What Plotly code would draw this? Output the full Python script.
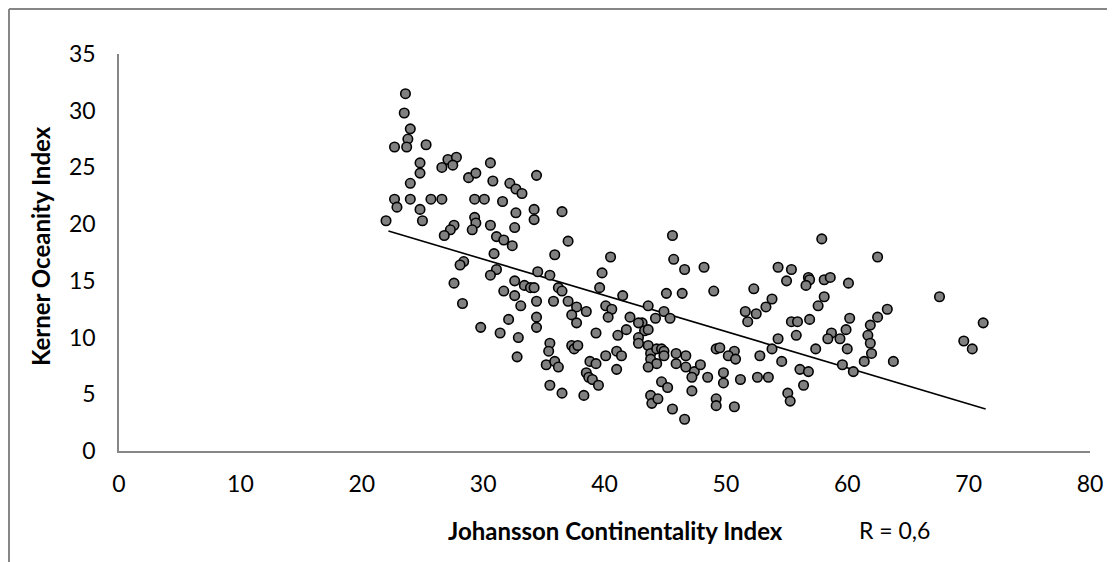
import plotly.graph_objects as go

# Johansson Continentality Index (x) vs Kerner Oceanity Index (y)
jci = [23.6, 23.5, 24.0, 23.8, 22.7, 23.7, 25.3, 24.8, 24.8, 24.0, 22.7, 22.9, 24.0, 24.8, 25.0, 22.0,
       25.7, 26.6, 26.6, 27.1, 27.8, 27.5, 28.8, 29.4, 30.6, 30.8, 32.2, 32.7, 33.2, 34.4, 29.3, 30.1,
       31.6, 32.7, 34.2, 34.2, 29.3, 29.4, 29.1, 30.6, 32.6, 27.6, 27.3, 26.8, 31.1, 31.7,
       32.4, 30.9, 28.4, 28.1, 31.1, 30.6, 27.6, 28.3, 32.6, 33.4, 33.9, 34.2, 34.5, 31.7, 32.6, 33.1,
       32.1, 34.4, 34.4, 29.8, 31.4, 32.9, 32.8, 34.4,
       36.5, 37.0, 35.9, 40.5, 39.8, 39.6, 41.5, 35.5, 36.2, 36.5, 35.8, 37.0, 37.7, 38.5, 40.1, 40.6,
       43.6, 44.9, 45.6, 45.7, 46.6, 48.2, 45.1, 46.4, 49.0, 37.3, 40.3, 42.1, 43.1, 44.2, 45.4,
       37.7, 41.8, 41.1, 39.3, 42.8, 43.3, 43.6, 42.8, 42.8, 43.6, 43.8, 43.8, 44.3, 44.7, 44.9, 44.9,
       44.3, 43.6, 35.5, 35.4, 35.2, 35.9, 36.2, 37.3, 37.5, 37.8, 38.8, 39.3, 40.1, 41.0, 41.4, 41.0,
       38.5, 38.7, 39.0, 39.5, 35.5, 36.5, 38.3, 45.9, 46.7, 45.9, 46.7, 47.4, 47.9, 47.2, 48.5, 49.2,
       44.7, 45.2, 47.2, 43.8, 43.9, 44.4, 45.6, 46.6, 49.2, 49.2,
       57.9, 62.5, 54.3, 55.4, 55.0, 56.8, 56.9, 56.6, 58.1, 58.6, 60.1, 52.3, 53.8, 53.3, 51.6, 52.5,
       58.1, 57.6, 63.3, 62.5, 60.2,
       51.8, 61.9, 59.9, 61.7, 61.9, 62.0, 61.4, 63.8, 60.0, 58.7, 58.4, 59.4, 57.4, 59.6, 60.5, 55.4,
       55.9, 56.9, 55.8, 54.3, 53.8, 52.8, 54.6, 56.1, 56.8, 56.4, 55.1, 55.3, 52.6, 53.5, 49.5, 50.7,
       50.2, 50.8, 49.8, 49.8, 51.2, 50.7,
       67.6, 71.2, 69.6, 70.3]

koi = [31.5, 29.8, 28.4, 27.5, 26.8, 26.8, 27.0, 25.4, 24.5, 23.6, 22.2, 21.5, 22.2, 21.3, 20.3, 20.3,
       22.2, 22.2, 25.0, 25.7, 25.9, 25.2, 24.1, 24.5, 25.4, 23.8, 23.6, 23.1, 22.7, 24.3, 22.2, 22.2,
       22.0, 21.0, 21.3, 20.4, 20.6, 20.1, 19.5, 19.9, 19.7, 19.9, 19.5, 19.0, 18.9, 18.6,
       18.1, 17.4, 16.7, 16.4, 16.0, 15.5, 14.8, 13.0, 15.0, 14.6, 14.4, 14.4, 15.8, 14.1, 13.7, 12.8,
       11.6, 11.8, 10.9, 10.9, 10.4, 10.0, 8.3, 13.2,
       21.1, 18.5, 17.3, 17.1, 15.7, 14.4, 13.7, 15.5, 14.4, 14.1, 13.2, 13.2, 12.7, 12.3, 12.8, 12.5,
       12.8, 12.3, 19.0, 16.9, 16.0, 16.2, 13.9, 13.9, 14.1, 12.0, 11.8, 11.8, 11.3, 11.7, 11.7,
       11.3, 10.7, 10.2, 10.4, 11.3, 10.6, 10.7, 10.0, 9.5, 9.3, 8.6, 8.1, 9.0, 9.0, 8.8, 8.4,
       7.7, 7.4, 9.5, 8.8, 7.6, 7.9, 7.4, 9.3, 9.0, 9.3, 7.9, 7.7, 8.4, 8.8, 8.4, 7.2,
       6.9, 6.5, 6.3, 5.8, 5.8, 5.1, 4.9, 8.6, 8.4, 7.7, 7.4, 7.0, 7.6, 6.5, 6.5, 9.0,
       6.1, 5.6, 5.3, 4.9, 4.2, 4.6, 3.7, 2.8, 4.6, 4.0,
       18.7, 17.1, 16.2, 16.0, 15.0, 15.3, 15.1, 14.6, 15.1, 15.3, 14.8, 14.3, 13.4, 12.7, 12.3, 12.1,
       13.6, 12.8, 12.5, 11.8, 11.7,
       11.4, 11.1, 10.7, 10.2, 9.5, 8.6, 7.9, 7.9, 9.0, 10.4, 9.9, 9.9, 9.0, 7.6, 7.0, 11.4,
       11.4, 11.6, 10.2, 9.9, 9.0, 8.4, 7.9, 7.2, 7.0, 5.8, 5.1, 4.4, 6.5, 6.5, 9.1, 8.8,
       8.4, 8.1, 6.9, 6.0, 6.3, 3.9,
       13.6, 11.3, 9.7, 9.0]

# linear trend line endpoints
trend_x = [22.2, 71.4]
trend_y = [19.4, 3.7]

x_title = "Johansson Continentality Index"
y_title = "Kerner Oceanity Index"
r_label = "R = 0,6"

FONT = "Lato"
AXIS_COL = "#868686"

fig = go.Figure()
fig.add_trace(go.Scatter(
    x=trend_x, y=trend_y, mode="lines",
    line=dict(color="black", width=1.6), hoverinfo="skip", showlegend=False))
fig.add_trace(go.Scatter(
    x=jci, y=koi, mode="markers",
    marker=dict(size=9.5, color="#808080", line=dict(color="black", width=1.6)),
    showlegend=False))

fig.update_layout(
    width=1107, height=554,
    margin=dict(l=111, r=25, t=46, b=111),
    paper_bgcolor="white", plot_bgcolor="white",
    font=dict(family=FONT, size=23, color="black"),
    showlegend=False,
    xaxis=dict(range=[0, 80], dtick=10, tick0=0, showgrid=False, zeroline=False,
               showline=True, linecolor=AXIS_COL, linewidth=1.5, ticks="",
               ticklabelstandoff=12, tickfont=dict(family=FONT, size=23)),
    yaxis=dict(range=[0, 35], dtick=5, tick0=0, showgrid=False, zeroline=False,
               showline=True, linecolor=AXIS_COL, linewidth=1.5, ticks="",
               ticklabelstandoff=17, tickfont=dict(family=FONT, size=23)),
    annotations=[
        dict(text="<b>" + x_title + "</b>", xref="paper", yref="paper",
             x=0.511, y=-0.199, xanchor="center", yanchor="middle", showarrow=False,
             font=dict(family=FONT, size=24)),
        dict(text="<b>" + y_title + "</b>", xref="paper", yref="paper",
             x=-0.0814, y=0.516, xanchor="center", yanchor="middle", showarrow=False,
             textangle=-90, font=dict(family=FONT, size=24)),
        dict(text=r_label, xref="paper", yref="paper",
             x=0.799, y=-0.199, xanchor="center", yanchor="middle", showarrow=False,
             font=dict(family=FONT, size=23)),
    ],
    shapes=[
        dict(type="line", xref="paper", yref="paper", x0=-0.1133, x1=1.1, y0=1.1134, y1=1.1134,
             line=dict(color=AXIS_COL, width=2)),
        dict(type="line", xref="paper", yref="paper", x0=-0.1133, x1=-0.1133, y0=1.1134, y1=-0.4,
             line=dict(color=AXIS_COL, width=2)),
    ],
)

fig.write_html("out.html")
